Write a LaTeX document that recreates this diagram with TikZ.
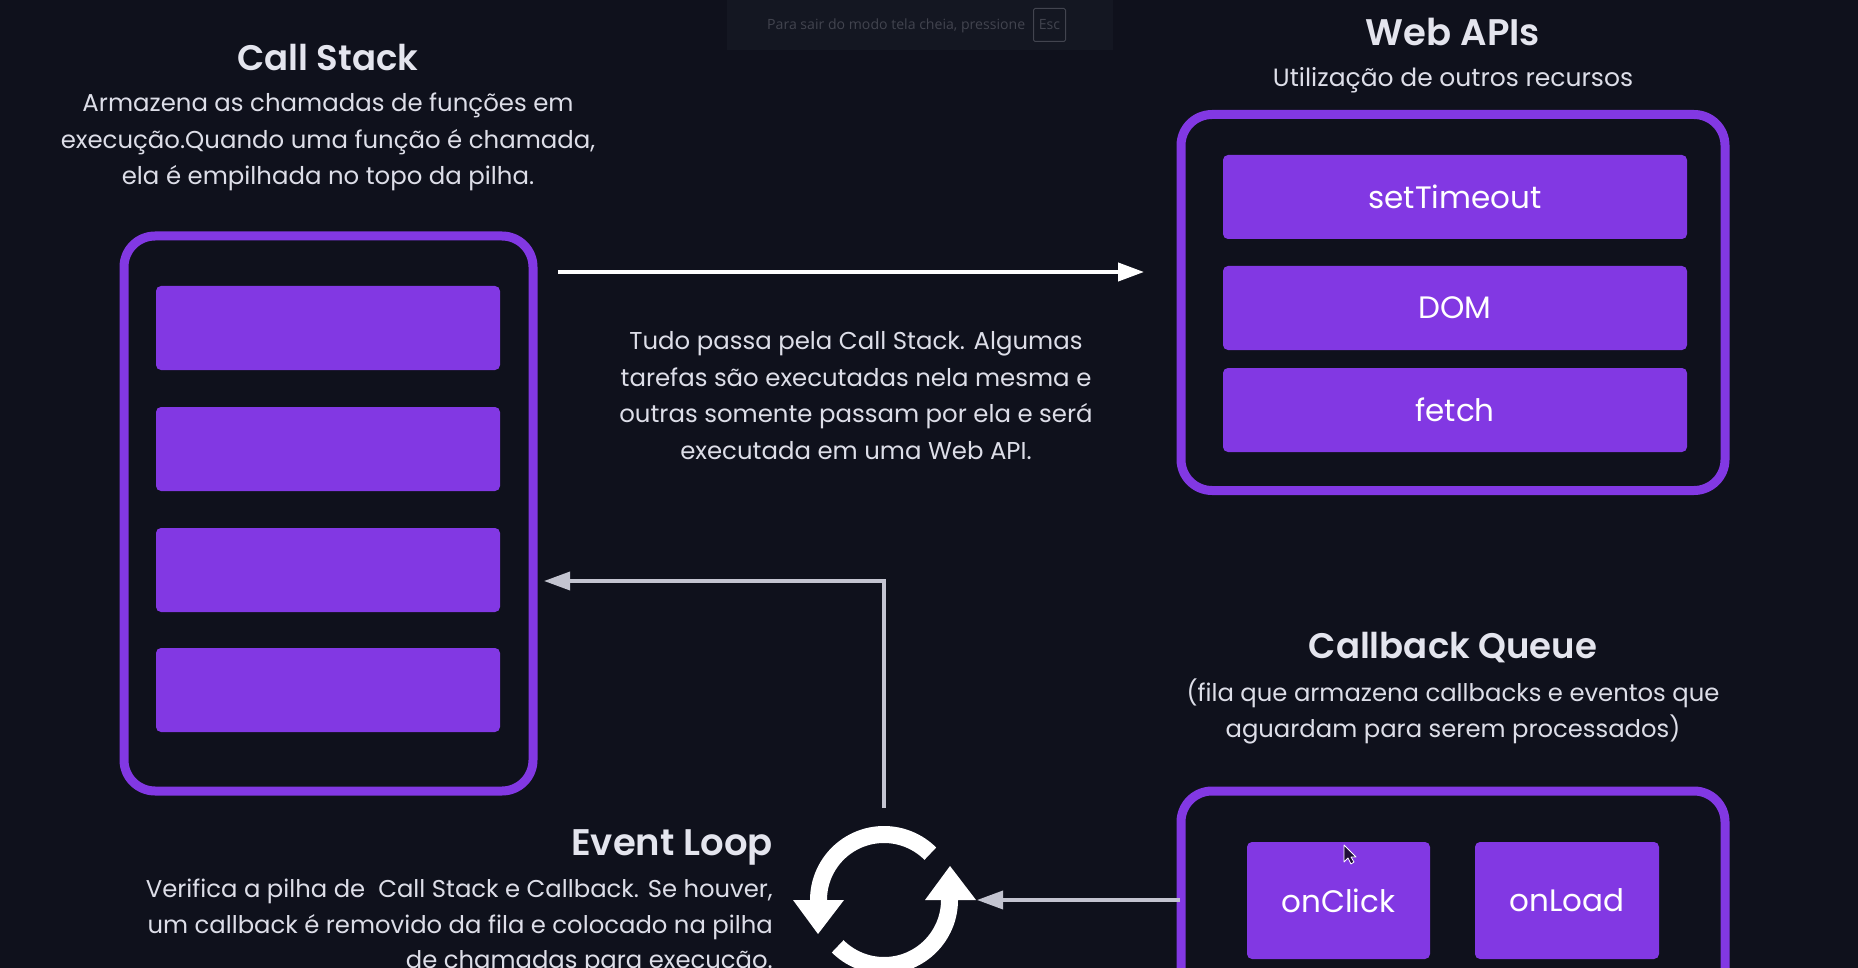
\documentclass[tikz,border=0pt]{standalone}
\usepackage{fontspec}
\setmainfont{Poppins}[BoldFont={Poppins SemiBold}]
\newfontfamily\uifont{Open Sans}
\usetikzlibrary{arrows.meta}
\definecolor{bgc}{HTML}{0F111C}
\definecolor{purp}{HTML}{8238E3}
\definecolor{titlec}{HTML}{E4E5EE}
\definecolor{textc}{HTML}{DDDEE8}
\definecolor{grayarrow}{HTML}{C3C4D0}
\definecolor{barc}{HTML}{141722}
\definecolor{barfg}{HTML}{42444F}
\tikzset{
  x=1pt,y=-1pt,
  outerbox/.style={draw=purp,line width=9pt,rounded corners=31pt,fill=none,inner sep=0pt,outer sep=0pt},
  slot/.style={fill=purp,rounded corners=5pt,inner sep=0pt,outer sep=0pt,text=white,font=\fontsize{31}{36}\selectfont},
  heading/.style={text=titlec,font=\fontsize{35.5}{40}\selectfont\bfseries,inner sep=0pt},
  headingwide/.style={heading,font=\fontsize{37}{40}\selectfont\bfseries},
  body/.style={text=textc,align=center,inner sep=0pt,font=\fontsize{24.4}{36.7}\selectfont},
  whitearrow/.style={draw=white,line width=4pt,-{Triangle[length=26pt,width=18pt]}},
  grayarrow/.style={draw=grayarrow,line width=3.5pt,-{Triangle[length=26pt,width=18pt]}},
  loopring/.style={draw=white,line width=17pt},
}
\newcommand{\slotbox}[5]{\node[slot,minimum width=#3 pt,minimum height=#4 pt,anchor=north west] (#1) at (#2) {#5};}
\begin{document}
\begin{tikzpicture}
\useasboundingbox (0,0) rectangle (1858,968);
\clip (0,0) rectangle (1858,968);
\fill[bgc] (0,0) rectangle (1858,968);
% fullscreen bar
\fill[barc] (727,0) rectangle (1113,50);
\node[text=barfg,font=\uifont\fontsize{14.1}{18}\selectfont,anchor=west,inner sep=0pt] (hint) at (767,26) {Para sair do modo tela cheia, pressione};
\node[draw=barfg,rounded corners=1.5pt,line width=1pt,text=barfg,font=\uifont\fontsize{14.1}{18}\selectfont,minimum width=32pt,minimum height=33pt,inner sep=0pt] (esc) at (1049.5,25) {Esc};
% Call stack
\node[heading] (csTitle) at (328,58) {Call Stack};
\node[body] (csText) at (328,142) {Armazena as chamadas de funções em\\execução.Quando uma função é chamada,\\ela é empilhada no topo da pilha.};
\node[outerbox,minimum width=409pt,minimum height=555pt] (cs) at (328.5,513.5) {};
\slotbox{cs1}{156,286}{344}{84}{}
\slotbox{cs2}{156,407}{344}{84}{}
\slotbox{cs3}{156,528}{344}{84}{}
\slotbox{cs4}{156,648}{344}{84}{}
% Web APIs
\node[headingwide] (waTitle) at (1453,32) {Web APIs};
\node[body,font=\fontsize{25}{36.7}\selectfont] (waText) at (1453,80) {Utilização de outros recursos};
\node[outerbox,minimum width=544pt,minimum height=376pt] (wa) at (1453,302.5) {};
\slotbox{wa1}{1223,155}{464}{84}{setTimeout}
\slotbox{wa2}{1223,266}{464}{84}{DOM}
\slotbox{wa3}{1223,368}{464}{84}{fetch}
% middle
\node[body] (midText) at (856,395.5) {Tudo passa pela Call Stack. Algumas\\tarefas são executadas nela mesma e\\outras somente passam por ela e será\\executada em uma Web API.};
% Callback queue
\node[heading] (cqTitle) at (1453,648) {Callback Queue};
\node[body,font=\fontsize{24.3}{36}\selectfont] (cqText) at (1453,711) {(fila que armazena callbacks e eventos que\\aguardam para serem processados)};
\node[outerbox,minimum width=544pt,minimum height=300pt] (cq) at (1453,941) {};
\slotbox{cq1}{1247,842}{183}{117}{onClick}
\slotbox{cq2}{1475,842}{184}{117}{onLoad}
% cursor
\filldraw[fill=black!75!purp,draw=white,line width=0.8pt,line join=round] (1344,845) -- (1344,862) -- (1348,858) -- (1351,864) -- (1354,862) -- (1351,857) -- (1356,857) -- cycle;
% event loop
\node[headingwide,anchor=east] (elTitle) at (773,847) {Event Loop};
\node[body,align=right,anchor=north east,font=\fontsize{24.3}{35.5}\selectfont] (elText) at (773,879) {Verifica a pilha de\ \ Call Stack e Callback. Se houver,\\um callback é removido da fila e colocado na pilha\\de chamadas para execução.};
% loop icon
\coordinate (loopC) at (884,900);
\node[inner sep=0pt,minimum size=148pt] (loop) at (loopC) {};
\draw[loopring] (818.5,900) arc[start angle=180,end angle=45,x radius=65.5pt,y radius=65.5pt];
\draw[loopring] (949.5,900) arc[start angle=360,end angle=225,x radius=65.5pt,y radius=65.5pt];
\fill[white] (793,900) -- (844,900) -- (818,934) -- cycle;
\fill[white] (925,900) -- (976,900) -- (950,866) -- cycle;
% connectors
\coordinate (a1s) at (558,272);
\coordinate (a1e) at (1144,272);
\draw[whitearrow] (a1s) -- (a1e);
\coordinate (a2s) at (884,808);
\coordinate (a2m) at (884,581);
\coordinate (a2e) at (544,581);
\draw[grayarrow] (a2s) -- (a2m) -- (a2e);
\coordinate (a3s) at (1180,900);
\coordinate (a3e) at (977,900);
\draw[grayarrow] (a3s) -- (a3e);
\end{tikzpicture}
\end{document}
